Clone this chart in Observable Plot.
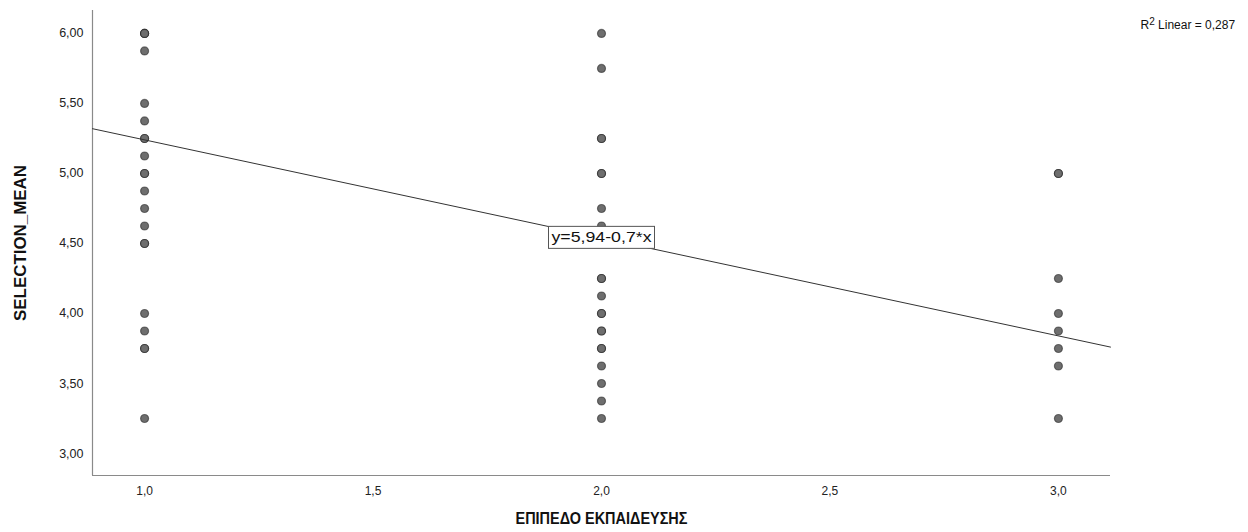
<!DOCTYPE html>
<html>
<head>
<meta charset="utf-8">
<script src="https://cdn.jsdelivr.net/npm/d3@7"></script>
<script src="https://cdn.jsdelivr.net/npm/@observablehq/plot@0.6"></script>
<style>
  html, body { margin: 0; padding: 0; background: #fff; }
</style>
</head>
<body>
<div id="chart"></div>
<script>
// Education level groups and SELECTION_MEAN values (duplicates overlap)
const level1 = [6, 6, 6, 5.875, 5.5, 5.375, 5.25, 5.25, 5.125, 5, 5, 4.875, 4.75, 4.625, 4.5, 4.5, 4, 3.875, 3.75, 3.75, 3.25];
const level2 = [6, 5.75, 5.25, 5.25, 5, 5, 4.75, 4.625, 4.25, 4.25, 4.125, 4, 4, 3.875, 3.875, 3.75, 3.75, 3.625, 3.5, 3.375, 3.25];
const level3 = [5, 5, 4.25, 4, 3.875, 3.75, 3.625, 3.25];

const xTicks = [1, 1.5, 2, 2.5, 3];
const yTicks = [3, 3.5, 4, 4.5, 5, 5.5, 6];
const xDomain = [0.886, 3.114];
const yDomain = [2.843, 6.164];

const intercept = 5.94;
const slope = -0.7;
const rSquared = "0,287";
const equationLabel = "y=5,94-0,7*x";
const xTitle = "ΕΠΙΠΕΔΟ ΕΚΠΑΙΔΕΥΣΗΣ";
const yTitle = "SELECTION_MEAN";

const points = [
  ...level1.map(v => ({x: 1, y: v})),
  ...level2.map(v => ({x: 2, y: v})),
  ...level3.map(v => ({x: 3, y: v}))
];
const fitLine = xDomain.map(x => ({x, y: intercept + slope * x}));
const labelPoint = [{x: 2, y: intercept + slope * 2}];

const comma = (d, n) => d.toFixed(n).replace(".", ",");

const chart = Plot.plot({
  width: 1248,
  height: 532,
  marginLeft: 92,
  marginRight: 138,
  marginTop: 10,
  marginBottom: 57,
  style: {fontFamily: "'Liberation Sans', Arial, sans-serif", fontSize: "12px", background: "#fff", color: "#222"},
  x: {domain: xDomain},
  y: {domain: yDomain},
  marks: [
    Plot.axisY({ticks: yTicks, tickSize: 0, tickPadding: 9, tickFormat: d => comma(d, 2), label: null, fontSize: 12.5}),
    Plot.axisX({ticks: xTicks, tickSize: 0, tickPadding: 11, tickFormat: d => comma(d, 1), label: null, fontSize: 12}),
    Plot.ruleX([xDomain[0]], {stroke: "#8a8a8a", strokeWidth: 1.2}),
    Plot.ruleY([yDomain[0]], {stroke: "#8a8a8a", strokeWidth: 1.2}),
    Plot.dot(points, {x: "x", y: "y", r: 4, fill: "#6e6e6e", stroke: "#1e1e1e", strokeOpacity: 0.55, strokeWidth: 1.2}),
    Plot.line(fitLine, {x: "x", y: "y", stroke: "#333", strokeWidth: 1}),
    Plot.text(labelPoint, {x: "x", y: "y", text: () => equationLabel, fill: "#111", fontSize: 14, className: "eqlabel"}),
    Plot.text([rSquared], {frameAnchor: "top-right", dx: 30, dy: 10, textAnchor: "start", text: d => "R2 Linear = " + d, fill: "#111", fontSize: 12, className: "r2label"}),
    Plot.text([xTitle], {frameAnchor: "bottom", dy: 48, textAnchor: "middle", text: d => d, fontSize: 17, fontWeight: "bold", fill: "#111", className: "xtitle"}),
    Plot.text([yTitle], {frameAnchor: "left", dx: -72, textAnchor: "middle", rotate: -90, text: d => d, fontSize: 17, fontWeight: "bold", fill: "#111", className: "ytitle"})
  ]
});

document.getElementById("chart").appendChild(chart);

// condensed look for the axis titles and the equation label
function squeeze(sel, len) {
  const t = chart.querySelector(sel);
  if (t) { t.setAttribute("textLength", len); t.setAttribute("lengthAdjust", "spacingAndGlyphs"); }
}
squeeze("g.xtitle text", 172);
squeeze("g.ytitle text", 156);
squeeze("g.eqlabel text", 100);

// superscript 2 in the R² label
const r2 = chart.querySelector("g.r2label text");
if (r2) {
  const full = r2.textContent;
  const ns = "http://www.w3.org/2000/svg";
  r2.textContent = "";
  const a = document.createElementNS(ns, "tspan"); a.textContent = full.slice(0, 1);
  a.setAttribute("font-size", "12");
  const s = document.createElementNS(ns, "tspan"); s.textContent = full.slice(1, 2);
  s.setAttribute("dy", "-4"); s.setAttribute("font-size", "10");
  const c = document.createElementNS(ns, "tspan"); c.textContent = full.slice(2);
  c.setAttribute("dy", "4"); c.setAttribute("font-size", "12");
  r2.append(a, s, c);
}

// white box behind the equation label
const eq = chart.querySelector("g.eqlabel text");
if (eq) {
  const b = eq.getBBox();
  const rect = document.createElementNS("http://www.w3.org/2000/svg", "rect");
  rect.setAttribute("x", b.x - 3);
  rect.setAttribute("y", b.y - 3);
  rect.setAttribute("width", b.width + 6);
  rect.setAttribute("height", b.height + 6);
  rect.setAttribute("fill", "#fff");
  rect.setAttribute("stroke", "#555");
  rect.setAttribute("stroke-width", 1);
  const t = eq.getAttribute("transform");
  if (t) rect.setAttribute("transform", t);
  eq.parentNode.insertBefore(rect, eq);
}
</script>
</body>
</html>
